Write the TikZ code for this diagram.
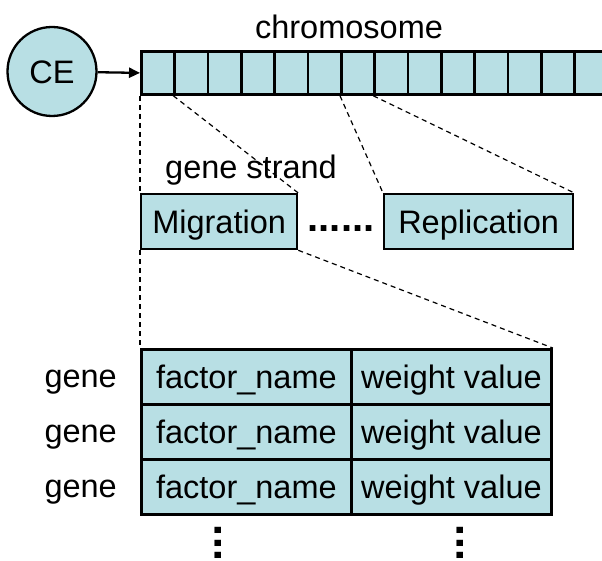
\documentclass[tikz,border=0pt]{standalone}
\usepackage{fontspec}
\setmainfont{Liberation Sans}
\usetikzlibrary{arrows.meta}
\definecolor{cellfill}{RGB}{184,223,228}
\begin{document}
\begin{tikzpicture}[x=1pt,y=-1pt,
  every node/.style={font=\fontsize{32.5}{39}\selectfont, inner sep=0pt,
                     text height=24pt, text depth=0pt},
  cell/.style={draw, fill=cellfill, line width=2.8pt, anchor=north west,
               minimum width=33.333pt, minimum height=43pt},
  genebox/.style={draw, fill=cellfill, line width=2.3pt, anchor=north west,
                  minimum height=55pt},
  tcell/.style={draw, fill=cellfill, line width=2.8pt, anchor=north west,
                minimum height=55pt},
  guide/.style={dashed, dash pattern=on 5pt off 4pt, line width=1.2pt},
  dotsh/.style={font=\fontsize{40}{48}\selectfont\bfseries},
  dotsv/.style={font=\fontsize{44}{52}\selectfont\bfseries, rotate=90, anchor=base}]
\useasboundingbox (0,0) rectangle (602,561);

% chromosome: a row of gene cells running off the right edge
\foreach \i in {0,...,13}
  \node[cell] (c\i) at ({140+33.333*\i},50) {};
\node[anchor=base] (chromlabel) at (349,39) {chromosome};

% CE feeding the chromosome
\node[circle, draw, fill=cellfill, line width=2.3pt, minimum size=89pt] (ce) at (52,71.5) {CE};
\draw[line width=2.3pt, -{Triangle[length=11pt,width=10pt]}] (ce) -- (c0.west);

% gene strands
\node[anchor=base west] (strandlabel) at (165,179) {gene strand};
\node[genebox, minimum width=156pt] (mig) at (140,193) {Migration};
\node[genebox, minimum width=189pt] (rep) at (383,193) {Replication};
\node[dotsh, anchor=base] (hdots) at (341,232) {......};

% genes of a strand
\foreach \r/\y in {1/348,2/403,3/458} {
  \node[tcell, minimum width=210pt] (t\r1) at (140,\y) {factor\_name};
  \node[tcell, minimum width=200pt] (t\r2) at (350,\y) {weight value};
  \node[anchor=east] (g\r) at (117,\y+27.5) {gene};
}
\node[dotsv] (vd1) at (221,543) {...};
\node[dotsv] (vd2) at (463,543) {...};

% zoom guides
\draw[guide] (c0.south west) -- (mig.north west);
\draw[guide] (c1.south west) -- (mig.north east);
\draw[guide] (c6.south west) -- (rep.north west);
\draw[guide] (c7.south west) -- (rep.north east);
\draw[guide] (mig.south west) -- (t11.north west);
\draw[guide] (mig.south east) -- (t12.north east);
\end{tikzpicture}
\end{document}
